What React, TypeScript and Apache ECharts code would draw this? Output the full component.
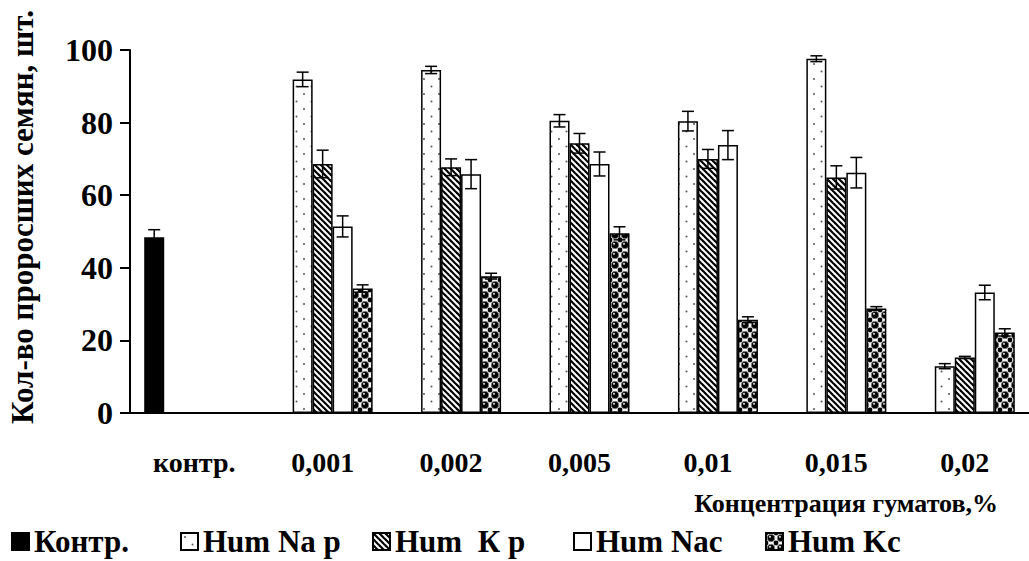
import React, { useEffect, useRef } from 'react';
import * as echarts from 'echarts';

const categories = ['контр.', '0,001', '0,002', '0,005', '0,01', '0,015', '0,02'];
const seriesNames = ['Контр.', 'Hum Na p', 'Hum  К р', 'Hum Nac', 'Hum Kc'];
const controlValues = [48.4, null, null, null, null, null, null];
const controlErr = [2.1, null, null, null, null, null, null];
const humNaP = [null, 91.9, 94.5, 80.5, 80.4, 97.6, 12.9];
const humNaPErr = [null, 2.0, 1.0, 1.7, 2.7, 0.8, 0.7];
const humKP = [null, 68.6, 67.7, 74.3, 70.0, 64.9, 15.3];
const humKPErr = [null, 3.8, 2.3, 2.7, 2.6, 3.2, 0.3];
const humNac = [null, 51.4, 65.8, 68.6, 73.8, 66.2, 33.2];
const humNacErr = [null, 2.9, 4.0, 3.3, 4.0, 4.2, 2.0];
const humKc = [null, 34.3, 37.7, 49.5, 25.7, 28.8, 22.2];
const humKcErr = [null, 1.0, 0.8, 1.8, 0.8, 0.5, 1.0];
const yMin = 0;
const yMax = 100;
const yStep = 20;
const xTitle = 'Концентрация гуматов,%';
const yTitle = 'Кол-во проросших семян, шт.';

const allValues = [controlValues, humNaP, humKP, humNac, humKc];
const allErrors = [controlErr, humNaPErr, humKPErr, humNacErr, humKcErr];

const SERIF = "'Liberation Serif', 'Times New Roman', Times, serif";

function tile(w: number, h: number, draw: (ctx: CanvasRenderingContext2D) => void) {
  const c = document.createElement('canvas');
  c.width = w;
  c.height = h;
  const ctx = c.getContext('2d')!;
  ctx.fillStyle = '#fff';
  ctx.fillRect(0, 0, w, h);
  draw(ctx);
  return c;
}

export default function App() {
  const ref = useRef<HTMLDivElement>(null);
  useEffect(() => {
    if (!ref.current) return;
    const chart = echarts.init(ref.current, null, { renderer: 'svg' });

    const dots = tile(15, 15, (ctx) => {
      ctx.fillStyle = '#555';
      ctx.beginPath();
      ctx.arc(4, 4, 1, 0, Math.PI * 2);
      ctx.fill();
      ctx.beginPath();
      ctx.arc(11.5, 11.5, 1, 0, Math.PI * 2);
      ctx.fill();
    });
    const stripes = tile(6, 6, (ctx) => {
      ctx.strokeStyle = '#000';
      ctx.lineWidth = 2.2;
      for (const k of [-6, 0, 6]) {
        ctx.beginPath();
        ctx.moveTo(k - 1, -1);
        ctx.lineTo(k + 7, 7);
        ctx.stroke();
      }
    });
    const balls = tile(10, 10, (ctx) => {
      ctx.fillStyle = '#000';
      for (const [cx, cy] of [[0, 0], [10, 0], [0, 10], [10, 10]]) {
        ctx.beginPath();
        ctx.arc(cx, cy, 2.4, 0, Math.PI * 2);
        ctx.fill();
      }
      ctx.beginPath();
      ctx.arc(5, 5, 3.8, 0, Math.PI * 2);
      ctx.fill();
      ctx.strokeStyle = '#888';
      ctx.lineWidth = 0.8;
      ctx.stroke();
      ctx.fillStyle = '#ccc';
      ctx.beginPath();
      ctx.arc(4, 3.8, 1.1, 0, Math.PI * 2);
      ctx.fill();
    });

    const fills: any[] = [
      '#000',
      { image: dots, repeat: 'repeat' },
      { image: stripes, repeat: 'repeat' },
      '#fff',
      { image: balls, repeat: 'repeat' },
    ];

    const barSeries = seriesNames.map((name, i) => ({
      type: 'bar',
      name,
      data: allValues[i],
      barWidth: 20,
      barGap: '0%',
      itemStyle: { color: fills[i], borderColor: '#000', borderWidth: 1.5 },
      z: 2,
    }));

    const errSeries = seriesNames.map((name, i) => ({
      type: 'custom',
      name: 'err' + i,
      data: allValues[i]
        .map((v, j) => (v == null ? null : [j, v, allErrors[i][j]]))
        .filter((d) => d != null),
      encode: { x: 0, y: 1 },
      z: 5,
      silent: true,
      renderItem: (params: any, api: any) => {
        const xi = api.value(0);
        const v = api.value(1);
        const e = api.value(2);
        const c = api.coord([xi, v]);
        const x = c[0] + (i - 2) * 20;
        const yt = api.coord([xi, v + e])[1];
        const yb = api.coord([xi, v - e])[1];
        const st = { stroke: '#000', lineWidth: 1.5 };
        return {
          type: 'group',
          children: [
            { type: 'line', shape: { x1: x, y1: yt, x2: x, y2: yb }, style: st },
            { type: 'line', shape: { x1: x - 6, y1: yt, x2: x + 6, y2: yt }, style: st },
            { type: 'line', shape: { x1: x - 6, y1: yb, x2: x + 6, y2: yb }, style: st },
          ],
        };
      },
    }));

    const legendLefts = [11, 180, 372, 573, 765];
    const legends = seriesNames.map((name, i) => ({
      data: [name],
      left: legendLefts[i],
      top: 526,
      padding: 0,
      itemWidth: 17,
      itemHeight: 17,
      itemGap: 0,
      icon: 'rect',
      selectedMode: false,
      textStyle: { fontFamily: SERIF, fontWeight: 'bold', fontSize: 31, color: '#000' },
    }));

    chart.setOption({
      animation: false,
      backgroundColor: '#fff',
      grid: { left: 130, right: -5, top: 50, bottom: 148, containLabel: false },
      legend: legends,
      xAxis: {
        type: 'category',
        data: categories,
        axisLine: { lineStyle: { color: '#000', width: 2 } },
        axisTick: { length: 9, lineStyle: { color: '#000', width: 2 } },
        axisLabel: {
          margin: 35,
          color: '#000',
          fontFamily: SERIF,
          fontWeight: 'bold',
          fontSize: 28,
        },
      },
      yAxis: {
        type: 'value',
        min: yMin,
        max: yMax,
        interval: yStep,
        splitLine: { show: false },
        axisLine: { show: true, lineStyle: { color: '#000', width: 2 } },
        axisTick: { show: true, length: 10, lineStyle: { color: '#000', width: 2 } },
        axisLabel: {
          margin: 17,
          color: '#000',
          fontFamily: SERIF,
          fontWeight: 'bold',
          fontSize: 32,
        },
      },
      graphic: [
        {
          type: 'text',
          right: 31,
          top: 490,
          style: {
            text: xTitle,
            fill: '#000',
            font: 'bold 26px ' + SERIF,
          },
        },
        {
          type: 'text',
          x: 22,
          y: 217,
          rotation: Math.PI / 2,
          style: {
            text: yTitle,
            fill: '#000',
            font: 'bold 31px ' + SERIF,
            align: 'center',
            verticalAlign: 'middle',
          },
        },
      ],
      series: [...barSeries, ...errSeries],
    });
    return () => chart.dispose();
  }, []);
  return (
    <div
      ref={ref}
      style={{ position: 'fixed', left: 0, top: 0, width: 1029, height: 561 }}
    />
  );
}
